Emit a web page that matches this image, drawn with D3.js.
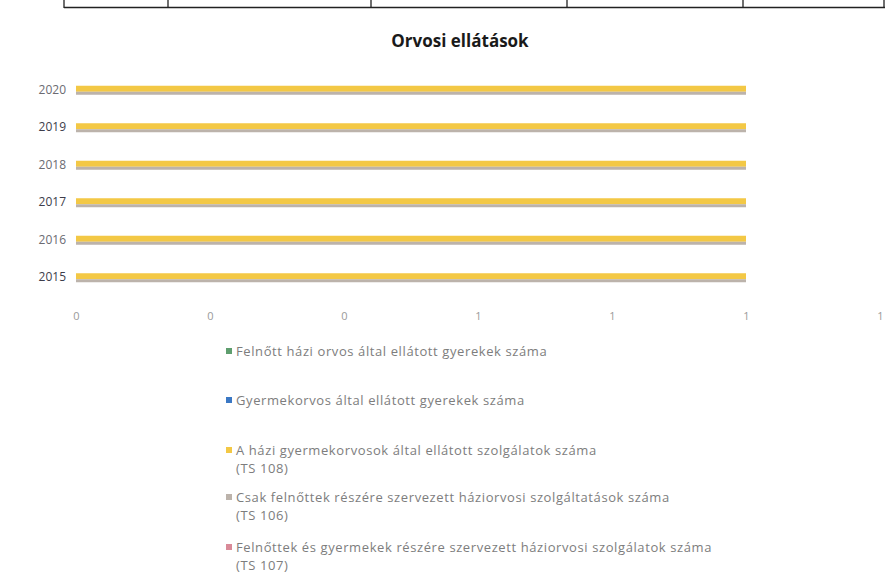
<!DOCTYPE html>
<html><head><meta charset="utf-8">
<script src="https://cdn.jsdelivr.net/npm/d3@7"></script>
<style>body{margin:0;background:#fff}svg{display:block}</style>
</head><body>
<svg id="c" width="885" height="573"></svg>
<script>
const years = ["2015","2016","2017","2018","2019","2020"];
const seriesNames = [
  "Felnőtt házi orvos által ellátott gyerekek száma",
  "Gyermekorvos által ellátott gyerekek száma",
  "A házi gyermekorvosok által ellátott szolgálatok száma\n(TS 108)",
  "Csak felnőttek részére szervezett háziorvosi szolgáltatások száma\n(TS 106)",
  "Felnőttek és gyermekek részére szervezett háziorvosi szolgálatok száma\n(TS 107)"
];
const seriesColors = ["#5e9e6e","#3b78c4","#f3c845","#bcb3ab","#d98a98"];
const felnottHazi = [0,0,0,0,0,0];
const gyermekorvos = [0,0,0,0,0,0];
const ts108 = [1,1,1,1,1,1];
const ts106 = [1,1,1,1,1,1];
const ts107 = [0,0,0,0,0,0];
const seriesValues = [felnottHazi, gyermekorvos, ts108, ts106, ts107];
const xTicks = [0,0.2,0.4,0.6,0.8,1.0,1.2];

const svg = d3.select("#c");

// table remnant at top
const tb = svg.append("g").attr("stroke","#222").attr("fill","none");
tb.append("line").attr("x1",64).attr("x2",885).attr("y1",7.5).attr("y2",7.5).attr("stroke-width",1.6);
[64,168,371,567,743,884].forEach(x=>tb.append("line").attr("x1",x).attr("x2",x).attr("y1",0).attr("y2",8).attr("stroke-width",1.3));

svg.append("text").attr("x",460).attr("y",47).attr("text-anchor","middle")
  .attr("font-family","Open Sans, sans-serif").attr("font-weight","bold").attr("font-size",17)
  .attr("fill","#1a1a1a").text("Orvosi ellátások");

const x = d3.scaleLinear().domain([0,1.2]).range([76,880]);
const y = d3.scaleBand().domain(years.slice().reverse()).range([71,296]).paddingInner(0).paddingOuter(0);
// within-group layout: yellow strip on top, grey strip right under it
const strip = {2:{dy:-4,h:6}, 3:{dy:2,h:3}, 0:{dy:5,h:3}, 1:{dy:-7,h:3}, 4:{dy:-10,h:3}};

const g = svg.append("g");
years.forEach((yr,i)=>{
  const cy = y(yr)+y.bandwidth()/2;
  seriesValues.forEach((vals,s)=>{
    if(vals[i]<=0) return;
    g.append("rect")
      .attr("x",x(0))
      .attr("y",cy+strip[s].dy)
      .attr("width",x(vals[i])-x(0))
      .attr("height",strip[s].h)
      .attr("fill",seriesColors[s]);
  });
});

const ya = svg.append("g").attr("transform","translate(70,0)")
  .call(d3.axisLeft(y).tickSize(0).tickPadding(4));
ya.select(".domain").remove();
ya.selectAll("text").attr("font-family","Open Sans, sans-serif").attr("font-size",12)
  .attr("fill",(d)=> (+d)%2===1 ? "#3d3d4a" : "#6b6b72");

const xa = svg.append("g").attr("transform","translate(0,302)")
  .call(d3.axisBottom(x).tickValues(xTicks).tickFormat(d3.format(".0f")).tickSize(0).tickPadding(10));
xa.select(".domain").remove();
xa.selectAll("text").attr("font-family","Open Sans, sans-serif").attr("font-size",11).attr("fill","#9a9a9a");

// legend
const legY = [352,401,451,498,548];
const lg = svg.append("g").attr("font-family","Open Sans, sans-serif").attr("font-size",13)
  .attr("letter-spacing",0.6).attr("fill","#7d7d7d");
seriesNames.forEach((name,s)=>{
  lg.append("rect").attr("x",226).attr("y",legY[s]-4).attr("width",6).attr("height",6).attr("fill",seriesColors[s]);
  name.split("\n").forEach((ln,k)=>{
    lg.append("text").attr("x",236).attr("y",legY[s]+4+k*18).text(ln);
  });
});
</script>
</body></html>
